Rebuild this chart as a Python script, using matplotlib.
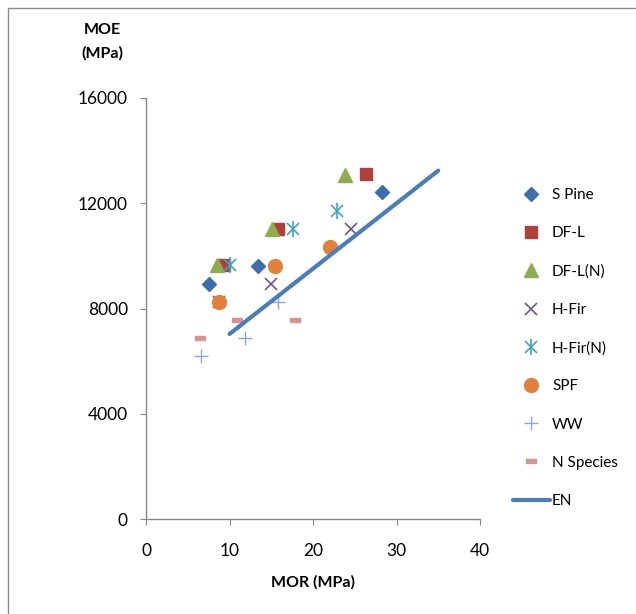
import matplotlib
matplotlib.use("Agg")
import matplotlib.pyplot as plt
from matplotlib.legend_handler import HandlerTuple
from matplotlib.patches import Rectangle

plt.rcParams['font.family'] = ['Lato', 'DejaVu Sans']

# MOR (MPa) vs MOE (MPa)
spine_x = [7.6, 13.4, 28.3]
spine_y = [8940, 9630, 12420]
dfl_x = [9.3, 15.8, 26.4]
dfl_y = [9650, 11020, 13100]
dfln_x = [8.5, 15.1, 23.8]
dfln_y = [9650, 11020, 13070]
hfir_x = [8.8, 15.0, 24.6]
hfir_y = [8260, 8940, 11020]
hfirn_x = [10.1, 17.6, 22.9]
hfirn_y = [9650, 11020, 11720]
spf_x = [8.8, 15.4, 22.0]
spf_y = [8260, 9630, 10340]
ww_x = [6.6, 11.9, 15.8]
ww_y = [6180, 6870, 8260]
nsp_x = [6.5, 10.9, 17.9]
nsp_y = [6880, 7560, 7560]
en_x = [10, 35]
en_y = [7030, 13240]

fig = plt.figure(figsize=(6.36, 6.14), dpi=100)
ax = fig.add_axes([146/636, 1-519/614, 334/636, 421/614])

dash = [(-1, -0.5), (1, -0.5), (1, 0.5), (-1, 0.5), (-1, -0.5)]

h1, = ax.plot(spine_x, spine_y, 'D', ms=7.5, color='#3D6DAA', ls='none')
h2, = ax.plot(dfl_x, dfl_y, 's', ms=9, color='#B0403E', ls='none')
h3, = ax.plot(dfln_x, dfln_y, '^', ms=10, color='#8EAD4F', ls='none')
h4, = ax.plot(hfir_x, hfir_y, 'x', ms=9, mew=1.2, color='#705493', ls='none')
h5a, = ax.plot(hfirn_x, hfirn_y, 'x', ms=9, mew=1.2, color='#3FA5BF', ls='none')
h5b, = ax.plot(hfirn_x, hfirn_y, '|', ms=11, mew=1.2, color='#3FA5BF', ls='none')
h6, = ax.plot(spf_x, spf_y, 'o', ms=10, color='#E2823A', ls='none')
h7, = ax.plot(ww_x, ww_y, '+', ms=10, mew=1.0, color='#8AA6D6', ls='none')
h8, = ax.plot(nsp_x, nsp_y, marker=dash, ms=7, color='#D69593', ls='none')
h9, = ax.plot(en_x, en_y, '-', lw=3, color='#4A7EBB', solid_capstyle='round')

ax.set_xlim(0, 40)
ax.set_ylim(0, 16000)
ax.set_xticks([0, 10, 20, 30, 40])
ax.set_yticks([0, 4000, 8000, 12000, 16000])
for s in ['top', 'right']:
    ax.spines[s].set_visible(False)
for s in ['left', 'bottom']:
    ax.spines[s].set_color('#868686')
    ax.spines[s].set_linewidth(1.0)
ax.tick_params(axis='both', direction='out', length=4, color='#868686',
               labelsize=12.5, labelcolor='black')
ax.tick_params(axis='y', pad=9)
ax.tick_params(axis='x', pad=13)

ax.set_xlabel('MOR (MPa)', fontsize=11.5, fontweight='bold', labelpad=12)
fig.text(102/636, 1-42/614, 'MOE\n(MPa)', fontsize=11.5, fontweight='bold',
         ha='center', va='center', linespacing=1.75)

fig.legend([h1, h2, h3, h4, (h5a, h5b), h6, h7, h8, h9],
           ['S Pine', 'DF-L', 'DF-L(N)', 'H-Fir', 'H-Fir(N)', 'SPF', 'WW',
            'N Species', 'EN'],
           handler_map={tuple: HandlerTuple(ndivide=1, pad=0)},
           loc='upper left', bbox_to_anchor=(507/636, 1-182/614),
           frameon=False, fontsize=11, labelspacing=1.58,
           handlelength=2.4, handletextpad=0.15, borderaxespad=0)

fig.patches.append(Rectangle((8/636, -0.1), 1.0, 1-8/614+0.1,
                             transform=fig.transFigure, fill=False,
                             edgecolor='#8c8c8c', lw=1.0))

fig.savefig('out.png', dpi=100)
